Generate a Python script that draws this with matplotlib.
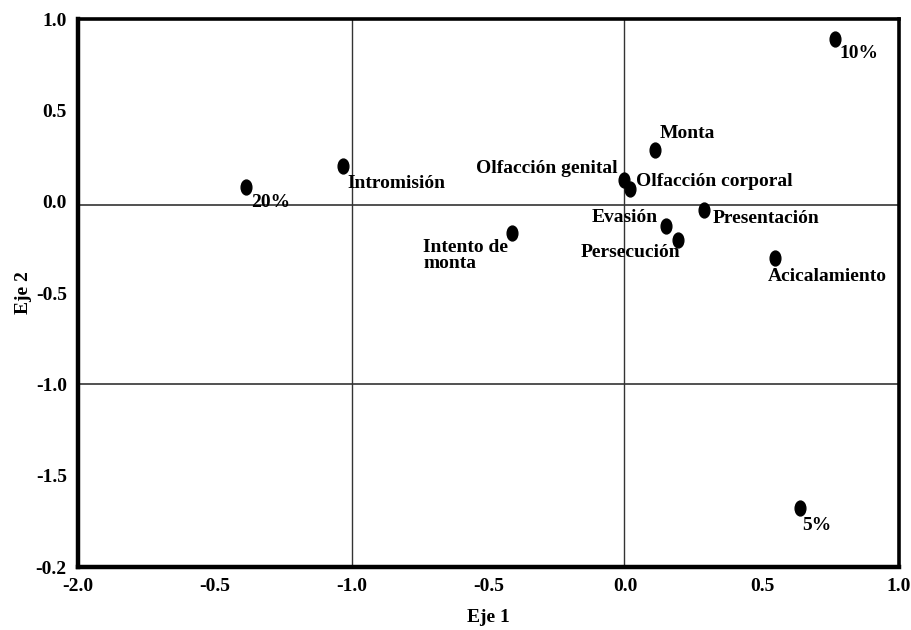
import matplotlib
matplotlib.use("Agg")
import matplotlib.pyplot as plt
from matplotlib.path import Path
import numpy as np

labels = ["10%", "20%", "Intromisión", "Monta", "Olfacción genital", "Olfacción corporal",
          "Presentación", "Evasión", "Persecución", "Intento de\nmonta", "Acicalamiento", "5%"]
eje1 = [0.766, -1.387, -1.031, 0.107, -0.005, 0.018, 0.289, 0.148, 0.193, -0.413, 0.547, 0.638]
eje2 = [0.890, 0.078, 0.196, 0.281, 0.118, 0.067, -0.046, -0.134, -0.209, -0.174, -0.307, -1.679]

xticks = [-2.0, -1.5, -1.0, -0.5, 0.0, 0.5, 1.0]
xticklabels = ["-2.0", "-0.5", "-1.0", "-0.5", "0.0", "0.5", "1.0"]
yticks = [1.0, 0.5, 0.0, -0.5, -1.0, -1.5, -2.0]
yticklabels = ["1.0", "0.5", "0.0", "-0.5", "-1.0", "-1.5", "-0.2"]

# label offsets in pixels (dx, dy) and alignment
offsets = {
    "10%": (5, -14, "left"),
    "20%": (5, -15, "left"),
    "Intromisión": (4, -18, "left"),
    "Monta": (5, 17, "left"),
    "Olfacción genital": (-6, 12, "right"),
    "Olfacción corporal": (6, 8, "left"),
    "Presentación": (8, -8, "left"),
    "Evasión": (-8, 9, "right"),
    "Persecución": (2, -13, "right"),
    "Intento de\nmonta": (-89, -22, "left"),
    "Acicalamiento": (-7, -19, "left"),
    "5%": (2, -17, "left"),
}

plt.rcParams['font.family'] = ['Liberation Serif', 'DejaVu Serif']
plt.rcParams['font.weight'] = 'bold'

fs = 14

fig = plt.figure(figsize=(9.12, 6.3), dpi=100)
ax = fig.add_axes([0.0855, 0.1, 0.9002, 0.8698])
ax.set_xlim(-2.0, 1.0)
ax.set_ylim(-2.0, 1.0)

# reference lines (drawn slightly below the 0.0 tick as in the original figure)
ax.axhline(-0.019, color="#333333", lw=1.2, zorder=1)
ax.axhline(-1.0, color="#333333", lw=1.2, zorder=1)
ax.axvline(-0.006, color="#333333", lw=1.0, zorder=1)
ax.axvline(-1.0, color="#333333", lw=1.0, zorder=1)

circ = Path.unit_circle()
ell = Path(circ.vertices * np.array([0.72, 1.0]), circ.codes)
ax.scatter(eje1, eje2, marker=ell, s=115, color="black", zorder=3)

for lab, x, y in zip(labels, eje1, eje2):
    dx, dy, ha = offsets[lab]
    ax.annotate(lab, (x, y), xytext=(dx, dy), textcoords="offset pixels",
                ha=ha, va="center", fontsize=fs, fontweight="bold",
                linespacing=0.95, zorder=4)

ax.set_xticks(xticks)
ax.set_xticklabels(xticklabels)
ax.set_yticks(yticks)
ax.set_yticklabels(yticklabels)
ax.tick_params(axis="x", length=0, labelsize=fs, pad=8)
ax.tick_params(axis="y", length=0, labelsize=fs, pad=8)
for t in ax.get_xticklabels() + ax.get_yticklabels():
    t.set_fontweight("bold")

for side in ["left", "bottom"]:
    ax.spines[side].set_linewidth(3.2)
for side in ["top", "right"]:
    ax.spines[side].set_linewidth(2.6)

ax.set_xlabel("Eje 1", fontsize=fs, fontweight="bold", labelpad=10)
ax.set_ylabel("Eje 2", fontsize=fs, fontweight="bold", labelpad=3)

fig.savefig("out.png", dpi=100)
